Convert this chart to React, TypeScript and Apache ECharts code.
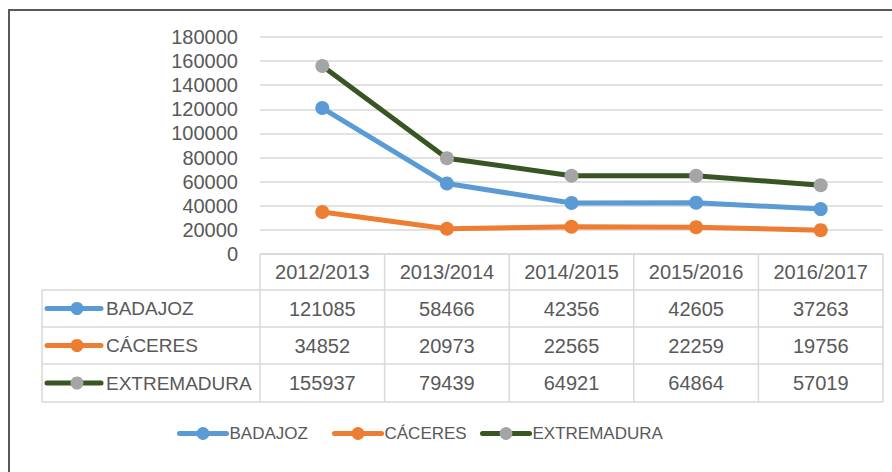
import React, { useEffect, useRef } from "react";
import * as echarts from "echarts";

const categories = ["2012/2013", "2013/2014", "2014/2015", "2015/2016", "2016/2017"];
const seriesNames = ["BADAJOZ", "CÁCERES", "EXTREMADURA"];
const badajoz = [121085, 58466, 42356, 42605, 37263];
const caceres = [34852, 20973, 22565, 22259, 19756];
const extremadura = [155937, 79439, 64921, 64864, 57019];
const seriesValues = [badajoz, caceres, extremadura];

const lineColors = ["#5B9BD5", "#ED7D31", "#375623"];
const markerColors = ["#5B9BD5", "#ED7D31", "#A5A5A5"];

const FONT = "'Liberation Sans', Arial, sans-serif";
const TXT = "#595959";
const GRIDC = "#D9D9D9";

export default function App() {
  const ref = useRef<HTMLDivElement>(null);
  useEffect(() => {
    document.body.style.margin = "0";
    if (!ref.current) return;
    const chart = echarts.init(ref.current, null, { renderer: "svg" });

    const gLeft = 260;
    const gRight = 883;
    const colW = (gRight - gLeft) / categories.length;
    const headTop = 254;
    const rowTops = [290, 327, 364, 402];
    const legLeft = 42;
    const legendLefts = [177, 332, 480];

    const graphic: any[] = [];
    // outer border (top & left visible)
    graphic.push({
      type: "rect",
      shape: { x: 9, y: 10, width: 900, height: 480 },
      style: { fill: "none", stroke: "#595959", lineWidth: 2 },
      silent: true,
    });
    const ln = (x1: number, y1: number, x2: number, y2: number) =>
      graphic.push({
        type: "line",
        shape: { x1, y1, x2, y2 },
        style: { stroke: GRIDC, lineWidth: 1.5 },
        silent: true,
      });
    // horizontal table lines
    ln(gLeft, headTop, gRight, headTop);
    rowTops.forEach((y) => ln(legLeft, y, gRight, y));
    // vertical lines
    ln(legLeft, rowTops[0], legLeft, rowTops[rowTops.length - 1]);
    for (let i = 0; i <= categories.length; i++) {
      const x = gLeft + i * colW;
      ln(x, headTop, x, rowTops[rowTops.length - 1]);
    }
    // header texts
    categories.forEach((c, i) => {
      graphic.push({
        type: "text",
        x: gLeft + (i + 0.5) * colW,
        y: (headTop + rowTops[0]) / 2,
        style: {
          text: c,
          fill: TXT,
          font: `20px ${FONT}`,
          align: "center",
          verticalAlign: "middle",
        },
      });
    });
    // rows
    seriesNames.forEach((name, r) => {
      const cy = (rowTops[r] + rowTops[r + 1]) / 2;
      graphic.push({
        type: "line",
        shape: { x1: 47, y1: cy, x2: 101, y2: cy },
        style: { stroke: lineColors[r], lineWidth: 5, lineCap: "round" },
      });
      graphic.push({
        type: "circle",
        shape: { cx: 77, cy, r: 6.5 },
        style: { fill: markerColors[r] },
      });
      graphic.push({
        type: "text",
        x: 106,
        y: cy,
        style: {
          text: name,
          fill: TXT,
          font: `19px ${FONT}`,
          align: "left",
          verticalAlign: "middle",
        },
      });
      seriesValues[r].forEach((v, i) => {
        graphic.push({
          type: "text",
          x: gLeft + (i + 0.5) * colW,
          y: cy,
          style: {
            text: String(v),
            fill: TXT,
            font: `20px ${FONT}`,
            align: "center",
            verticalAlign: "middle",
          },
        });
      });
    });

    chart.setOption({
      animation: false,
      textStyle: { fontFamily: FONT },
      grid: { left: gLeft, right: 892 - gRight, top: 37, bottom: 472 - headTop, containLabel: false },
      xAxis: {
        type: "category",
        data: categories,
        boundaryGap: true,
        axisLine: { show: false },
        axisTick: { show: false },
        axisLabel: { show: false },
      },
      yAxis: {
        type: "value",
        min: 0,
        max: 180000,
        interval: 20000,
        axisLine: { show: false },
        axisTick: { show: false },
        axisLabel: {
          color: TXT,
          fontSize: 20,
          margin: 22,
          fontFamily: FONT,
          formatter: (v: number) => String(v),
        },
        splitLine: { lineStyle: { color: GRIDC, width: 1.5 } },
      },
      legend: seriesNames.map((name, r) => ({
        left: legendLefts[r],
        top: 425,
        padding: 0,
        itemWidth: 47,
        itemHeight: 16,
        lineStyle: { width: 5, cap: "round" },
        textStyle: { color: TXT, fontSize: 17, fontFamily: FONT, padding: [0, 0, 0, -2] },
        data: [name],
      })),
      series: seriesNames.map((name, r) => ({
        name,
        type: "line",
        data: seriesValues[r],
        symbol: "circle",
        symbolSize: 14,
        lineStyle: { color: lineColors[r], width: 5 },
        itemStyle: { color: markerColors[r] },
        z: r === 2 ? 3 : 2,
      })),
      graphic,
    });
    return () => chart.dispose();
  }, []);
  return <div ref={ref} style={{ width: 892, height: 472 }} />;
}
